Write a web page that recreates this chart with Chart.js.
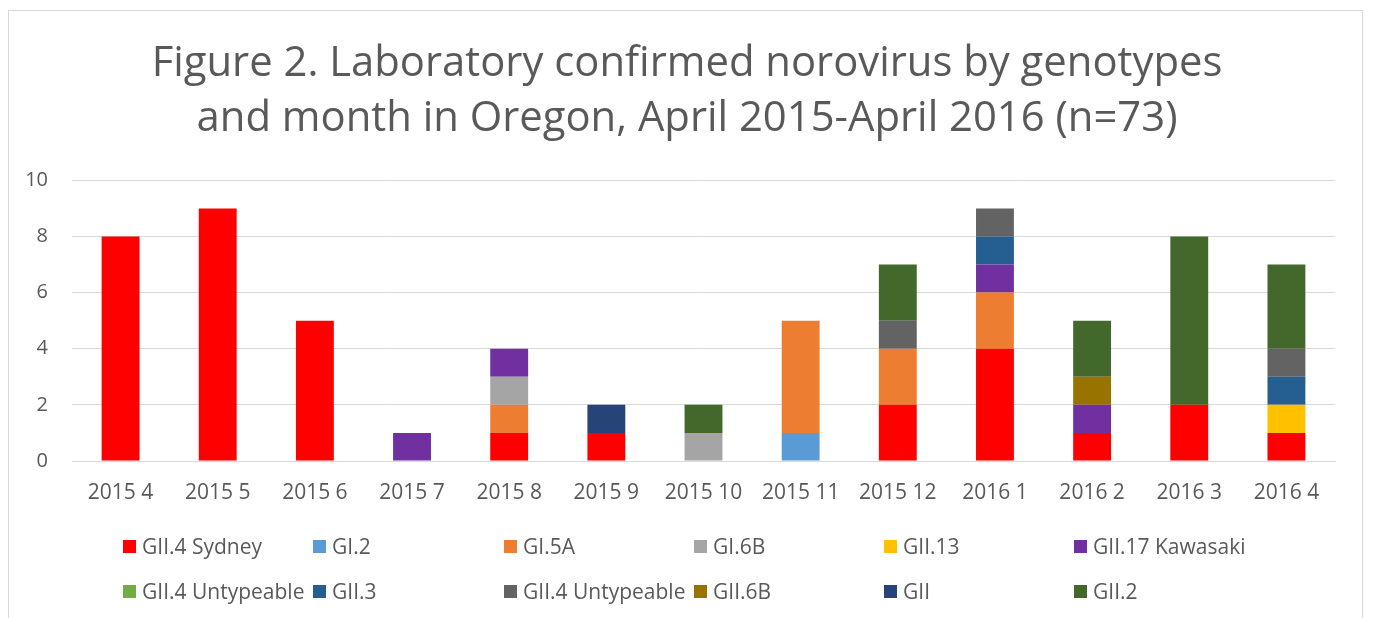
<!DOCTYPE html>
<html>
<head>
<meta charset="utf-8">
<script src="https://cdn.jsdelivr.net/npm/chart.js@4.4.1/dist/chart.umd.min.js"></script>
<style>
  html, body { margin:0; padding:0; background:#fff; }
  #wrap { position:relative; width:1374px; height:618px; overflow:hidden; }
  #frame { position:absolute; left:8px; top:10px; width:1355px; height:700px; border:1px solid #D9D9D9; box-sizing:border-box; }
  #c { position:absolute; left:0; top:0; }
  #legend { position:absolute; left:123px; top:0; width:1200px; font-family:"Open Sans", sans-serif; font-size:21px; color:#595959; }
  .li { position:absolute; display:flex; align-items:center; white-space:nowrap; }
  .sw { width:13px; height:13px; margin-right:6px; flex:none; }
</style>
</head>
<body>
<div id="wrap">
  <div id="frame"></div>
  <canvas id="c" width="1374" height="618"></canvas>
  <div id="legend"></div>
</div>
<script>
const categories = ["2015 4","2015 5","2015 6","2015 7","2015 8","2015 9","2015 10","2015 11","2015 12","2016 1","2016 2","2016 3","2016 4"];
const seriesNames = ["GII.4 Sydney","GI.2","GI.5A","GI.6B","GII.13","GII.17 Kawasaki","GII.4 Untypeable","GII.3","GII.4 Untypeable","GII.6B","GII","GII.2"];
const seriesColors = ["#FF0000","#5B9BD5","#ED7D31","#A5A5A5","#FFC000","#7030A0","#70AD47","#255E91","#636363","#997300","#264478","#43682B"];
const gii4Sydney      = [8,9,5,0,1,1,0,0,2,4,1,2,1];
const gi2             = [0,0,0,0,0,0,0,1,0,0,0,0,0];
const gi5A            = [0,0,0,0,1,0,0,4,2,2,0,0,0];
const gi6B            = [0,0,0,0,1,0,1,0,0,0,0,0,0];
const gii13           = [0,0,0,0,0,0,0,0,0,0,0,0,1];
const gii17Kawasaki   = [0,0,0,1,1,0,0,0,0,1,1,0,0];
const gii4UntypGreen  = [0,0,0,0,0,0,0,0,0,0,0,0,0];
const gii3            = [0,0,0,0,0,0,0,0,0,1,0,0,1];
const gii4UntypGray   = [0,0,0,0,0,0,0,0,1,1,0,0,1];
const gii6B           = [0,0,0,0,0,0,0,0,0,0,1,0,0];
const gii             = [0,0,0,0,0,1,0,0,0,0,0,0,0];
const gii2            = [0,0,0,0,0,0,1,0,2,0,2,6,3];
const yTicks = [0,2,4,6,8,10];
const titleLines = ["Figure 2. Laboratory confirmed norovirus by genotypes","and month in Oregon, April 2015-April 2016 (n=73)"];

const seriesValues = [gii4Sydney,gi2,gi5A,gi6B,gii13,gii17Kawasaki,gii4UntypGreen,gii3,gii4UntypGray,gii6B,gii,gii2];
const datasets = seriesNames.map((n,i)=>({
  label:n, data:seriesValues[i], backgroundColor:seriesColors[i],
  categoryPercentage:1, barPercentage:0.39, borderWidth:0, yAxisID:'y'
}));

const FONT = "'Open Sans', sans-serif";
new Chart(document.getElementById('c'), {
  type:'bar',
  data:{ labels:categories, datasets },
  options:{
    responsive:false, animation:false,
    layout:{ padding:0 },
    plugins:{
      legend:{ display:false },
      tooltip:{ enabled:false },
      title:{ display:true, text:titleLines, color:'#595959',
        font:{ family:FONT, size:41.8, weight:'normal', lineHeight:1.32 },
        padding:{ top:36, bottom:34 } }
    },
    scales:{
      x:{ stacked:true,
        grid:{ display:false, drawTicks:false },
        border:{ display:true, color:'#D9D9D9', width:1 },
        ticks:{ color:'#595959', font:{ family:FONT, size:21 }, padding:19, maxRotation:0, autoSkip:false },
        afterFit(s){ s.height = 157; }
      },
      y:{ stacked:true, min:0, max:10, position:'left',
        afterBuildTicks(s){ s.ticks = yTicks.map(v=>({value:v})); },
        grid:{ color:'#D9D9D9', drawTicks:false },
        border:{ display:false },
        ticks:{ color:'#595959', font:{ family:FONT, size:20 }, padding:24 },
        afterFit(s){ s.width = 72; }
      },
      yRightSpace:{ position:'right', display:true, min:0, max:10,
        grid:{ display:false, drawTicks:false },
        border:{ display:false },
        ticks:{ display:false },
        afterFit(s){ s.width = 39; }
      }
    }
  }
});

// HTML legend in a 6-column grid
const lg = document.getElementById('legend');
const colX = [0,190,381,571,761,951];
const rowY = [546,591];
seriesNames.forEach((n,i)=>{
  const d = document.createElement('div');
  d.className='li';
  d.style.left = colX[i%6]+'px';
  d.style.top = (rowY[Math.floor(i/6)]-14)+'px';
  d.style.height='28px';
  d.innerHTML = '<span class="sw" style="background:'+seriesColors[i]+'"></span><span>'+n+'</span>';
  lg.appendChild(d);
});
</script>
</body>
</html>
